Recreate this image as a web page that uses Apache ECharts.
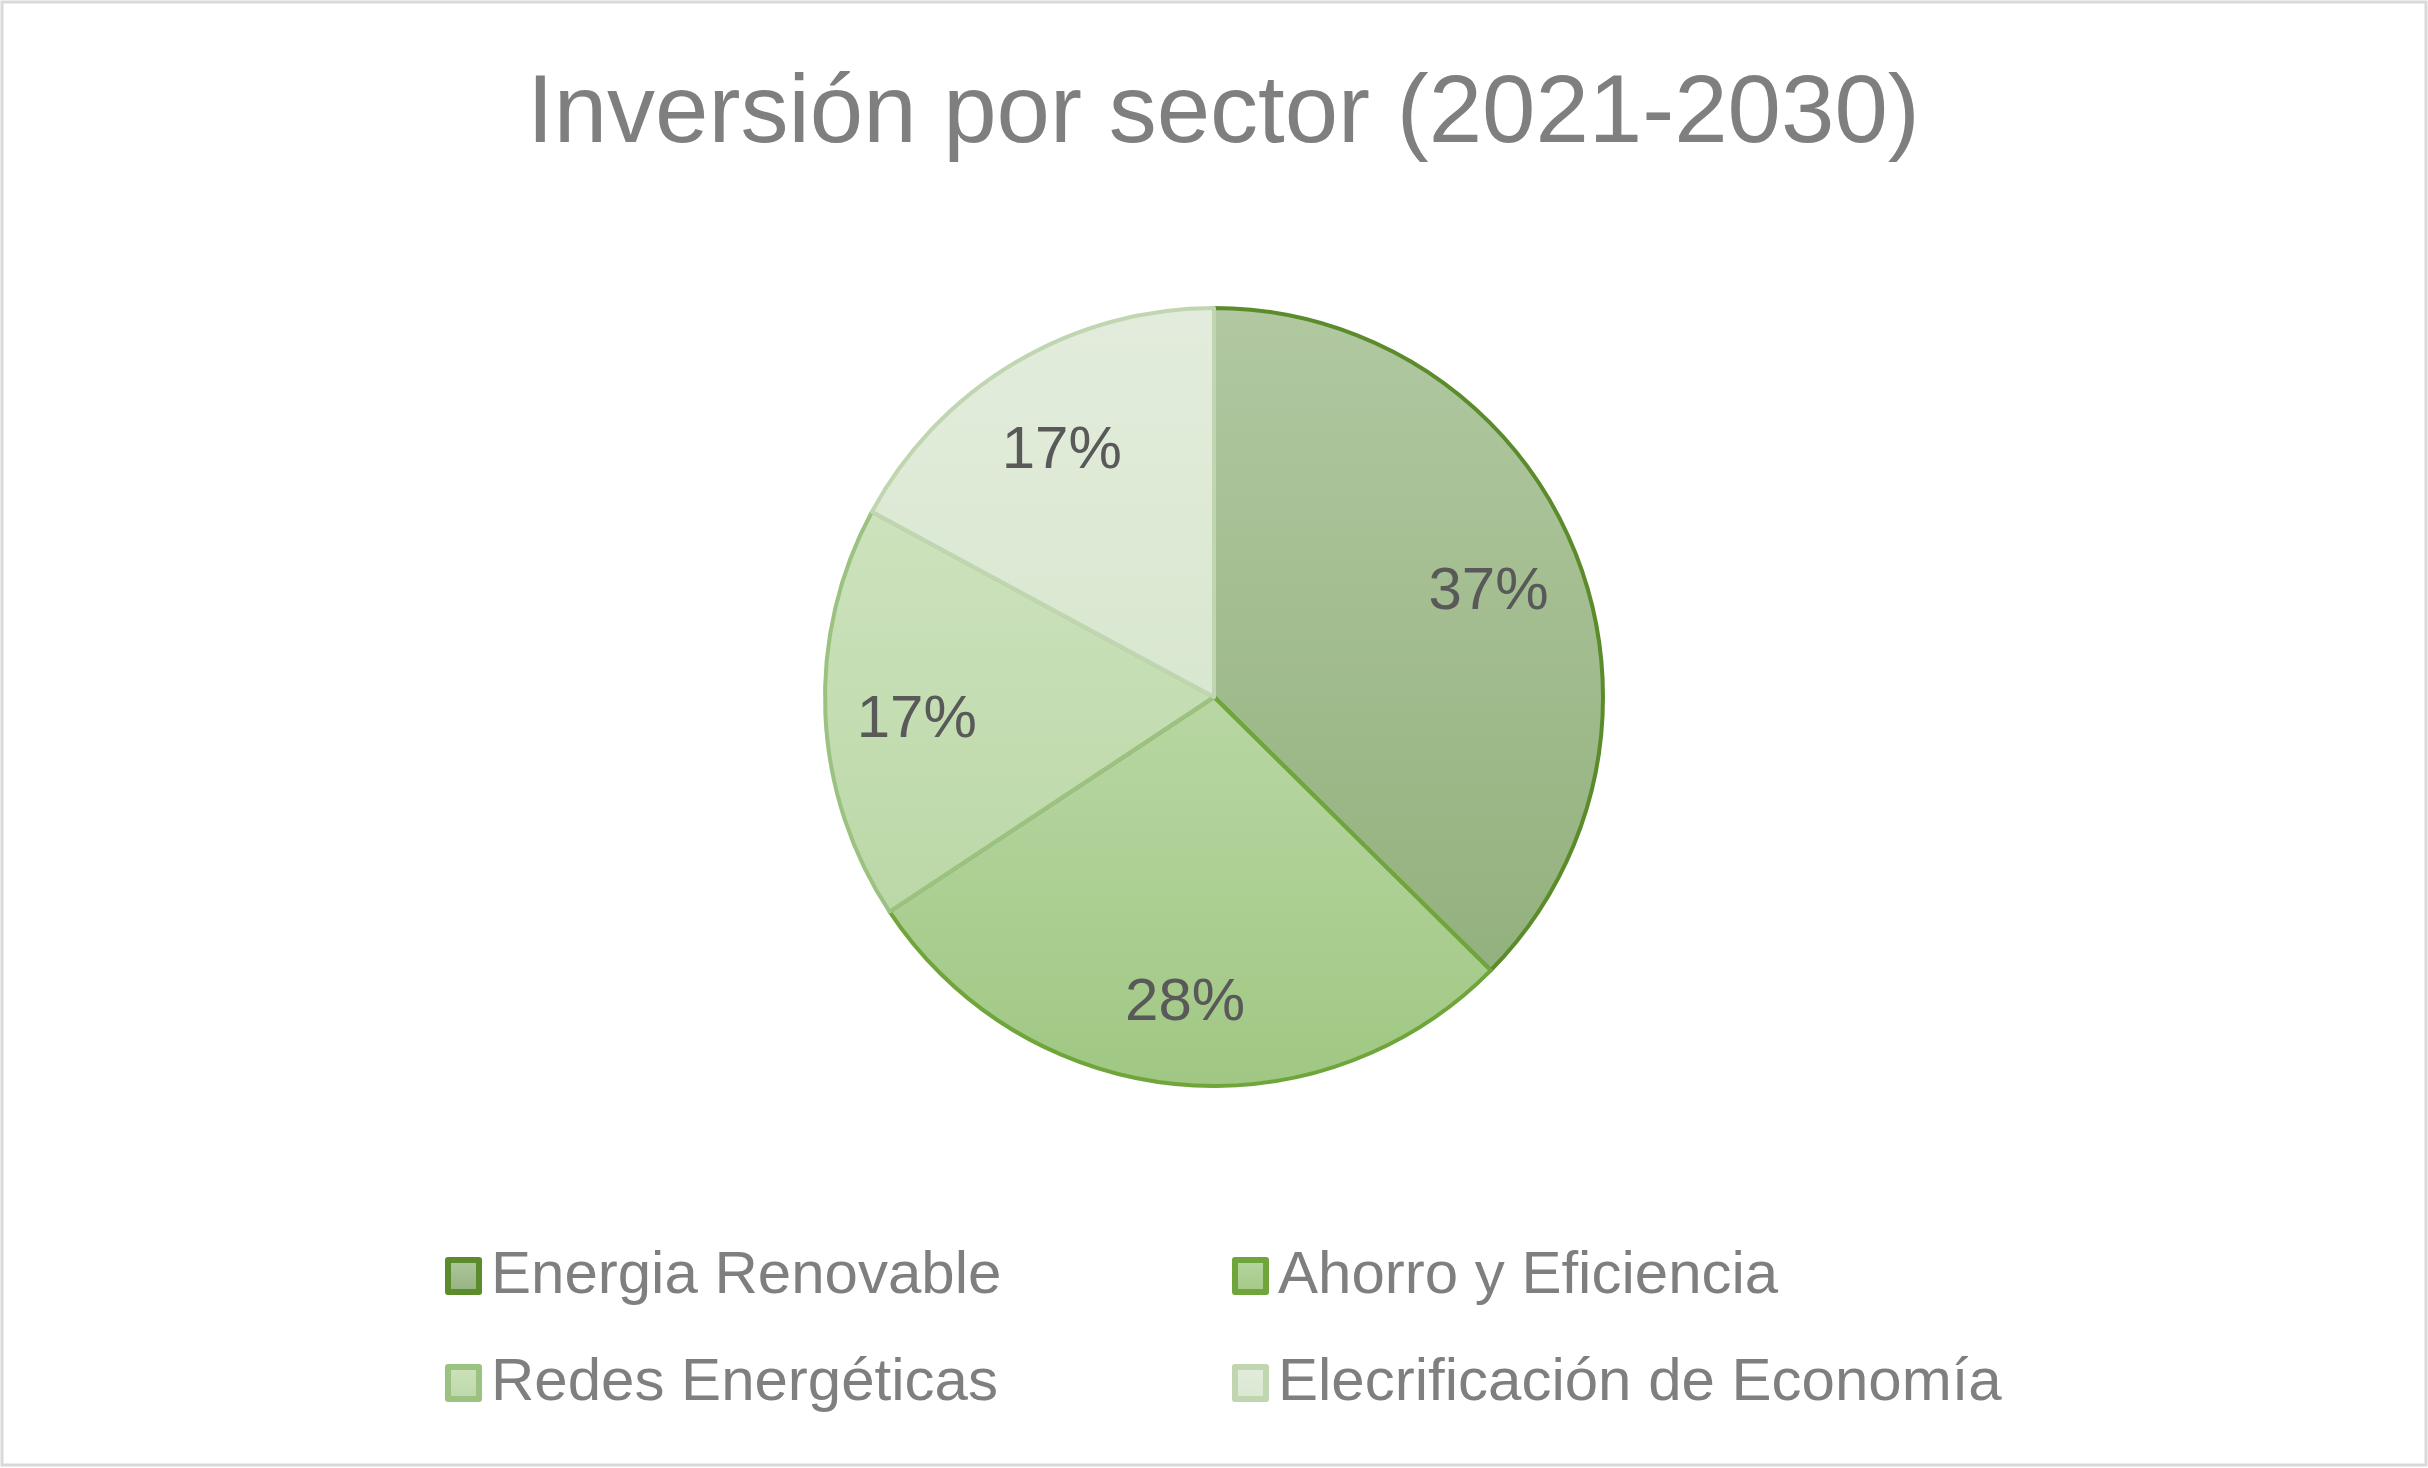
<!DOCTYPE html>
<html lang="es">
	<head>
		<meta charset="utf-8" />
		<title>Inversión por sector (2021-2030)</title>
		<style>
			html, body { margin: 0; padding: 0; background: #ffffff; }
			#pieChart { width: 2428px; height: 1468px; }
		</style>
	</head>
	<body>
		<div id="pieChart"></div>

		<script type="text/javascript" src="https://cdn.jsdelivr.net/npm/echarts@6/dist/echarts.min.js"></script>
		<script type="text/javascript">
			// 数据 / datos
			var sectores = ['Energia Renovable', 'Ahorro y Eficiencia', 'Redes Energéticas', 'Elecrificación de Economía'];
			var valores = [37.4, 28.3, 17.2, 17.1];

			// colores: arriba, abajo, borde
			var colorArriba = ['#b1c8a1', '#b8d7a3', '#cde2bd', '#e3ecdc'];
			var colorAbajo = ['#93b17d', '#a0c783', '#bbd8a7', '#d8e7cf'];
			var colorBorde = ['#5b8b2b', '#6fa53a', '#9cc282', '#bfd6b0'];

			var total = valores.reduce(function (a, b) { return a + b; }, 0);

			function degradado(i) {
				return new echarts.graphic.LinearGradient(0, 0, 0, 1, [
					{ offset: 0, color: colorArriba[i] },
					{ offset: 1, color: colorAbajo[i] }
				]);
			}

			const pieChart = echarts.init(document.getElementById('pieChart'));

			var datosPie = sectores.map(function (nombre, i) {
				return {
					name: nombre,
					value: valores[i],
					itemStyle: { color: degradado(i), borderColor: colorBorde[i] }
				};
			});

			var datosLeyenda = sectores.map(function (nombre, i) {
				return { name: nombre, itemStyle: { borderColor: colorBorde[i], borderWidth: 6 } };
			});

			var leyendaBase = {
				orient: 'vertical',
				top: 1241,
				itemWidth: 31,
				itemHeight: 32,
				itemGap: 47,
				icon: 'rect',
				selectedMode: false,
				textStyle: { color: '#7f7f7f', fontSize: 60, fontFamily: 'Liberation Sans', padding: [0, 0, 0, 7] }
			};

			const pieChartOpt = {
				animation: false,
				title: {
					text: 'Inversión por sector (2021-2030)',
					left: 522,
					top: 63,
					textStyle: {
						color: '#7f7f7f',
						fontWeight: 'normal',
						fontSize: 96,
						fontFamily: 'Liberation Sans'
					}
				},
				legend: [
					Object.assign({}, leyendaBase, { left: 440, data: [datosLeyenda[0], datosLeyenda[2]] }),
					Object.assign({}, leyendaBase, { left: 1227, data: [datosLeyenda[1], datosLeyenda[3]] })
				],
				graphic: [{
					type: 'rect',
					shape: { x: 2, y: 2, width: 2424, height: 1463 },
					style: { fill: 'none', stroke: '#d9d9d9', lineWidth: 3 },
					silent: true
				}],
				series: [
					{
						name: 'Inversión',
						type: 'pie',
						center: [1214, 697],
						radius: [0, 389],
						startAngle: 90,
						clockwise: true,
						label: { show: false },
						labelLine: { show: false },
						itemStyle: { borderWidth: 4 },
						emphasis: { disabled: true },
						data: datosPie
					},
					{
						// solo etiquetas, mas afuera del centro
						name: 'Etiquetas',
						type: 'pie',
						center: [1214, 697],
						radius: [200, 389],
						startAngle: 90,
						clockwise: true,
						silent: true,
						itemStyle: { color: 'transparent', borderWidth: 0 },
						emphasis: { disabled: true },
						label: {
							show: true,
							position: 'inside',
							formatter: function (p) {
								return '{s| }\n{v|' + Math.round(p.value / total * 100) + '%}';
							},
							rich: {
								s: { fontSize: 1, lineHeight: 20 },
								v: { color: '#595959', fontSize: 60, fontFamily: 'Liberation Sans' }
							}
						},
						labelLine: { show: false },
						data: sectores.map(function (nombre, i) {
							return { name: nombre, value: valores[i] };
						})
					}
				]
			};
			pieChart.setOption(pieChartOpt);
		</script>
	</body>
</html>
